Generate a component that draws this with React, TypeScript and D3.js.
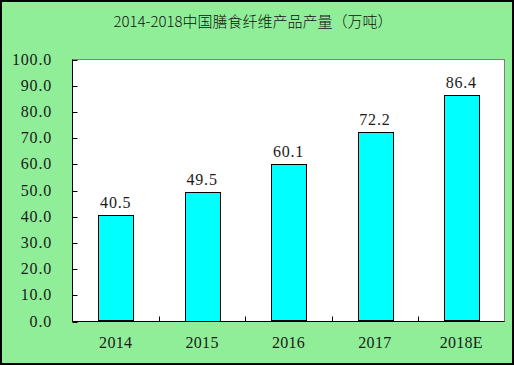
import React from "react";
import * as d3 from "d3";

const categories = ["2014", "2015", "2016", "2017", "2018E"];
const values = [40.5, 49.5, 60.1, 72.2, 86.4];
const yTicks = [0, 10, 20, 30, 40, 50, 60, 70, 80, 90, 100];
const title = "2014-2018中国膳食纤维产品产量（万吨）";

export default function App() {
  const W = 514, H = 365;
  const left = 72.5, right = 504.5, top = 59.5, bottom = 321.5;
  const x = d3.scaleBand<string>().domain(categories).range([left, right]).paddingInner(0.6).paddingOuter(0.3);
  const xb = d3.scaleBand<string>().domain(categories).range([left, right]);
  const y = d3.scaleLinear().domain([0, 100]).range([bottom, top]);
  const font = "'Liberation Serif', 'Times New Roman', serif";
  return (
    <div style={{ position: "absolute", left: 0, top: 0 }}>
      <svg width={W} height={H} style={{ display: "block" }}>
        <rect x={1} y={1} width={W - 2} height={H - 2} fill="#90EE98" stroke="#000" strokeWidth={2} />
        <text x={253} y={27} textAnchor="middle" fontFamily="'Noto Sans CJK SC', serif" fontWeight={300} fontSize={15} fill="#111">{title}</text>
        <rect x={left} y={top} width={right - left} height={bottom - top} fill="#fff" stroke="#808080" strokeWidth={1} />
        {yTicks.map((t) => (
          <g key={t}>
            <line x1={left} x2={left + 5} y1={Math.round(y(t)) + 0.5} y2={Math.round(y(t)) + 0.5} stroke="#000" />
            <text x={52} y={y(t) + 5} textAnchor="end" style={{ fontFamily: font }} fontSize={16} letterSpacing={0.8} fill="#1a1a1a">{t.toFixed(1)}</text>
          </g>
        ))}
        {categories.map((c, i) => (
          <g key={c}>
            <rect x={Math.round(x(c)!) + 0.5} y={Math.round(y(values[i])) + 0.5} width={Math.round(x.bandwidth())} height={Math.round(bottom - y(values[i])) - 1} fill="#00FFFF" stroke="#000" strokeWidth={1} />
            <text x={x(c)! + x.bandwidth() / 2} y={y(values[i]) - 7} textAnchor="middle" style={{ fontFamily: font }} fontSize={16} letterSpacing={0.8} fill="#1a1a1a">{values[i].toFixed(1)}</text>
            <text x={xb(c)! + xb.bandwidth() / 2} y={348} textAnchor="middle" style={{ fontFamily: font }} fontSize={16} letterSpacing={0.3} fill="#1a1a1a">{c}</text>
            {i > 0 && <line x1={Math.round(xb(c)!) + 0.5} x2={Math.round(xb(c)!) + 0.5} y1={bottom} y2={bottom - 5} stroke="#000" />}
          </g>
        ))}
        <line x1={left} x2={left} y1={top} y2={bottom} stroke="#000" />
        <line x1={left} x2={right} y1={bottom} y2={bottom} stroke="#000" />
      </svg>
    </div>
  );
}
